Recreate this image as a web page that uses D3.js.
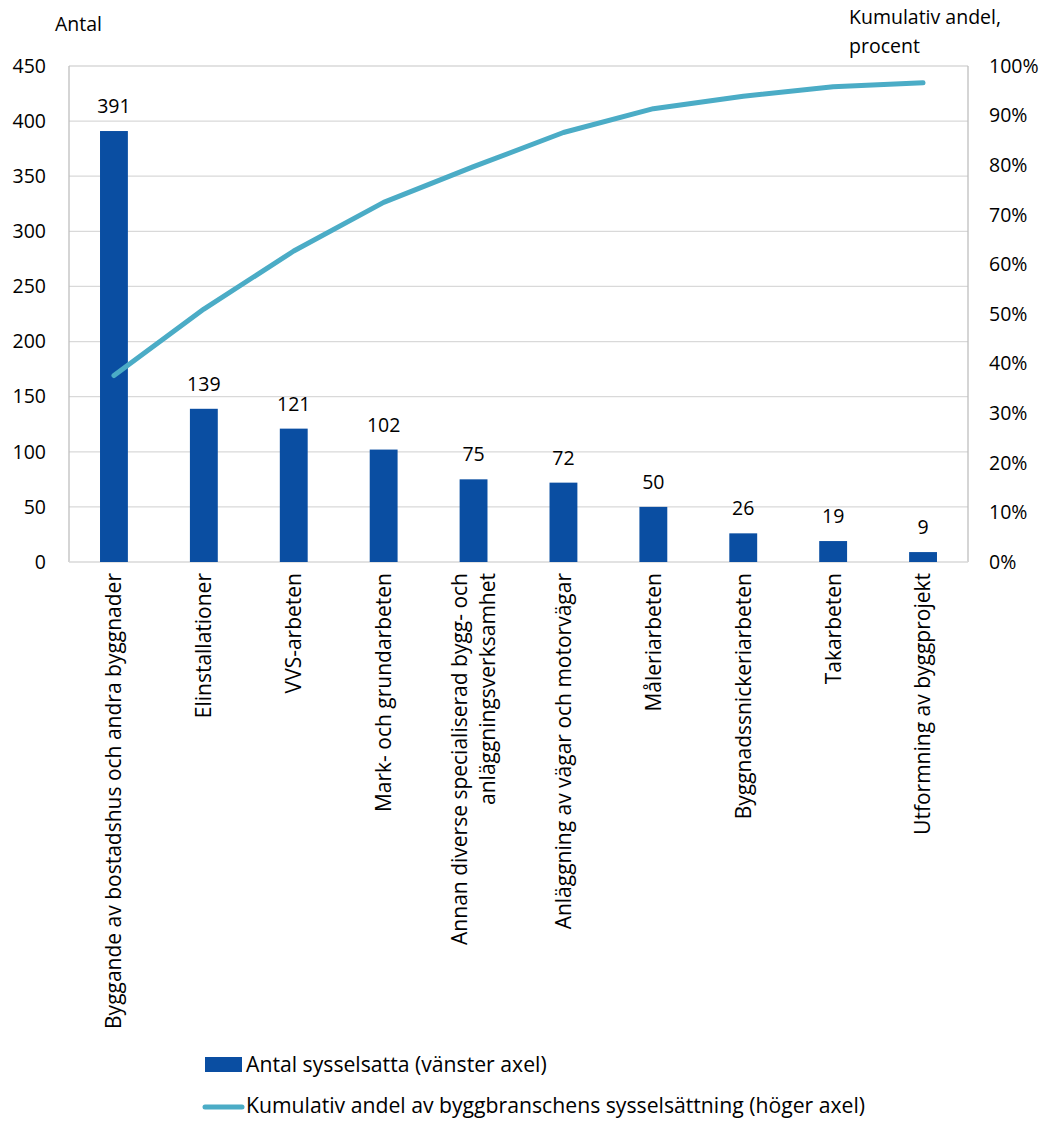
<!DOCTYPE html>
<html>
<head>
<meta charset="utf-8">
<script src="https://cdn.jsdelivr.net/npm/d3@7"></script>
<style>
  body { margin: 0; background: #fff; }
  svg text { font-family: "Open Sans", "Liberation Sans", sans-serif; fill: #000; }
</style>
</head>
<body>
<svg id="chart" width="1051" height="1122"></svg>
<script>
// Employment by construction sub-branch
const categories = [
  ["Byggande av bostadshus och andra byggnader"],
  ["Elinstallationer"],
  ["VVS-arbeten"],
  ["Mark- och grundarbeten"],
  ["Annan diverse specialiserad bygg- och", "anläggningsverksamhet"],
  ["Anläggning av vägar och motorvägar"],
  ["Måleriarbeten"],
  ["Byggnadssnickeriarbeten"],
  ["Takarbeten"],
  ["Utformning av byggprojekt"]
];
const employed = [391, 139, 121, 102, 75, 72, 50, 26, 19, 9];
// Cumulative share of the construction sector's employment, percent
const cumulativeShare = [37.6, 51.0, 62.7, 72.5, 79.7, 86.6, 91.4, 93.9, 95.8, 96.6];
const leftTicks = [0, 50, 100, 150, 200, 250, 300, 350, 400, 450];
const rightTicks = [0, 10, 20, 30, 40, 50, 60, 70, 80, 90, 100];

const svg = d3.select("#chart");
const plot = { left: 69, right: 968, top: 66, bottom: 562 };
const barColor = "#0a4ea2";
const lineColor = "#4bacc6";
const fs = 19.5;     // ticks, titles, value labels
const fsCat = 21;    // category labels
const fsLeg = 21.2;  // legend labels

const x = d3.scaleBand().domain(d3.range(categories.length))
  .range([plot.left, plot.right]).paddingInner(0.69).paddingOuter(0.345);
const xc = i => x(i) + x.bandwidth() / 2;
const yL = d3.scaleLinear().domain([0, 450]).range([plot.bottom, plot.top]);
const yR = d3.scaleLinear().domain([0, 100]).range([plot.bottom, plot.top]);

// gridlines
svg.append("g").selectAll("line").data(leftTicks.filter(d => d > 0)).join("line")
  .attr("x1", plot.left).attr("x2", plot.right)
  .attr("y1", d => yL(d)).attr("y2", d => yL(d))
  .attr("stroke", "#d9d9d9").attr("stroke-width", 1.3);

// plot frame
svg.append("line").attr("x1", plot.left).attr("x2", plot.left)
  .attr("y1", plot.top).attr("y2", plot.bottom).attr("stroke", "#bfbfbf").attr("stroke-width", 1.3);
svg.append("line").attr("x1", plot.right).attr("x2", plot.right)
  .attr("y1", plot.top).attr("y2", plot.bottom).attr("stroke", "#bfbfbf").attr("stroke-width", 1.3);
svg.append("line").attr("x1", plot.left).attr("x2", plot.right)
  .attr("y1", plot.bottom).attr("y2", plot.bottom).attr("stroke", "#d9d9d9").attr("stroke-width", 1.6);

// left tick labels
svg.append("g").selectAll("text").data(leftTicks).join("text")
  .attr("x", 46).attr("y", d => yL(d)).attr("dy", "0.35em")
  .attr("text-anchor", "end").attr("font-size", fs).text(d => d);

// right tick labels
svg.append("g").selectAll("text").data(rightTicks).join("text")
  .attr("x", 989).attr("y", d => yR(d)).attr("dy", "0.35em")
  .attr("text-anchor", "start").attr("font-size", fs).text(d => d + "%");

// axis titles
svg.append("text").attr("x", 55).attr("y", 31).attr("font-size", fs).text("Antal");
svg.append("text").attr("x", 849).attr("y", 24).attr("font-size", fs).text("Kumulativ andel,");
svg.append("text").attr("x", 849).attr("y", 53).attr("font-size", fs).text("procent");

// bars
svg.append("g").selectAll("rect").data(employed).join("rect")
  .attr("x", (d, i) => x(i)).attr("width", x.bandwidth())
  .attr("y", d => yL(d)).attr("height", d => yL(0) - yL(d))
  .attr("fill", barColor);

// value labels
svg.append("g").selectAll("text").data(employed).join("text")
  .attr("x", (d, i) => xc(i)).attr("y", d => yL(d) - 18)
  .attr("text-anchor", "middle").attr("font-size", fs).text(d => d);

// cumulative line
const line = d3.line().x((d, i) => xc(i)).y(d => yR(d));
svg.append("path").datum(cumulativeShare).attr("d", line)
  .attr("fill", "none").attr("stroke", lineColor).attr("stroke-width", 5)
  .attr("stroke-linecap", "round").attr("stroke-linejoin", "round");

// category labels, rotated
const cat = svg.append("g").selectAll("text").data(categories).join("text")
  .attr("transform", (d, i) => `translate(${xc(i)},573) rotate(-90)`)
  .attr("text-anchor", "end").attr("font-size", fsCat);
cat.each(function (lines) {
  const n = lines.length;
  d3.select(this).selectAll("tspan").data(lines).join("tspan")
    .attr("x", 0)
    .attr("y", (l, j) => (j - (n - 1) / 2) * 28)
    .attr("dy", "0.35em")
    .text(l => l);
});

// legend
svg.append("rect").attr("x", 205).attr("y", 1057).attr("width", 37).attr("height", 15).attr("fill", barColor);
svg.append("text").attr("x", 246).attr("y", 1065).attr("dy", "0.35em").attr("font-size", fsLeg)
  .text("Antal sysselsatta (vänster axel)");
svg.append("line").attr("x1", 205).attr("x2", 242).attr("y1", 1107).attr("y2", 1107)
  .attr("stroke", lineColor).attr("stroke-width", 5).attr("stroke-linecap", "round");
svg.append("text").attr("x", 246).attr("y", 1106).attr("dy", "0.35em").attr("font-size", fsLeg)
  .text("Kumulativ andel av byggbranschens sysselsättning (höger axel)");
</script>
</body>
</html>
